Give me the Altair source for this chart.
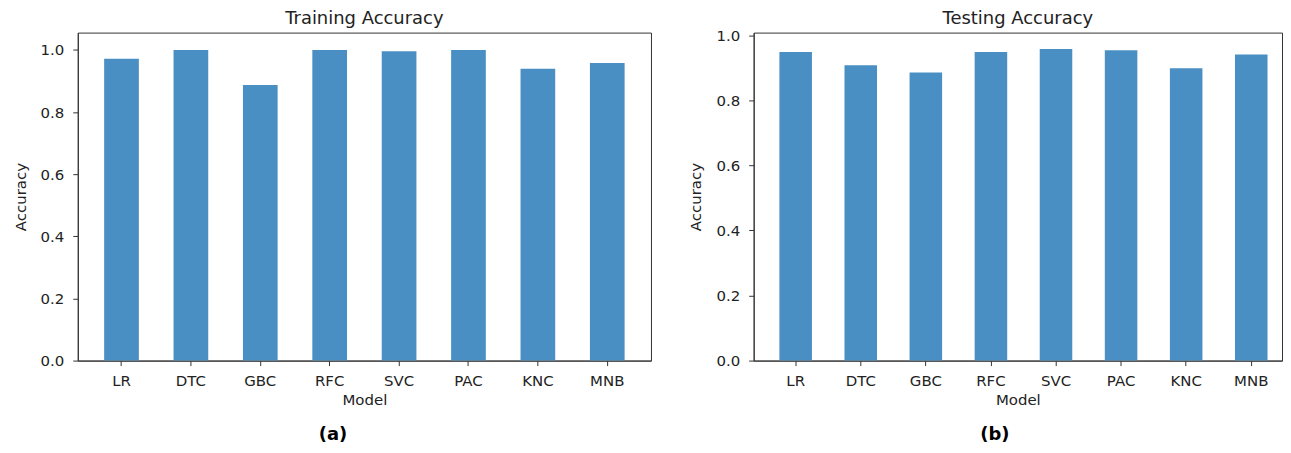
import altair as alt
import pandas as pd

models = ["LR", "DTC", "GBC", "RFC", "SVC", "PAC", "KNC", "MNB"]
train_acc = [0.972, 1.0, 0.887, 1.0, 0.996, 1.0, 0.940, 0.958]
test_acc = [0.949, 0.908, 0.886, 0.949, 0.958, 0.954, 0.899, 0.941]
panel_titles = ["Training Accuracy", "Testing Accuracy"]
panel_tags = ["(a)", "(b)"]
y_ticks = [0.0, 0.2, 0.4, 0.6, 0.8, 1.0]

BAR = "#4a8fc3"
INK = "#333333"
TXT = "#222222"
FONT = "DejaVu Sans"


def panel(values, title, tag, width, ymax, pad_outer, align, tag_x):
    df = pd.DataFrame({"Model": models, "Accuracy": values})
    bars = alt.Chart(df).mark_bar(color=BAR).encode(
        x=alt.X(
            "Model:N",
            sort=None,
            scale=alt.Scale(paddingInner=0.5, paddingOuter=pad_outer, align=align),
            axis=alt.Axis(labelAngle=0, title="Model"),
        ),
        y=alt.Y(
            "Accuracy:Q",
            scale=alt.Scale(domain=[0, ymax], nice=False, zero=True),
            axis=alt.Axis(values=y_ticks, format=".1f", title="Accuracy"),
        ),
    )
    text_df = pd.DataFrame({"tag": [tag], "title": [title]})
    label = alt.Chart(text_df).mark_text(
        fontWeight="bold", fontSize=18, baseline="middle", align="center",
        color="#000000", font=FONT,
    ).encode(x=alt.value(tag_x), y=alt.value(404), text="tag:N")
    head = alt.Chart(text_df).mark_text(
        fontSize=18, baseline="middle", align="center", color=TXT, font=FONT,
    ).encode(x=alt.value(width / 2), y=alt.value(-14), text="title:N")
    return alt.layer(bars, label, head).properties(width=width, height=329)


left = panel(train_acc, panel_titles[0], panel_tags[0], 575, 1.056, 0.38, 0.5, 256)
right = panel(test_acc, panel_titles[1], panel_tags[1], 530, 1.0084, 0.309, 0.64, 242)

chart = (
    alt.hconcat(left, right, spacing=36)
    .properties(padding={"left": 4, "top": 0, "right": 0, "bottom": 0})
    .configure_view(stroke=INK, strokeWidth=1)
    .configure_axis(
        domainColor=INK, tickColor=INK, labelColor=TXT, titleColor=TXT,
        labelFont=FONT, titleFont=FONT, labelFontSize=15, titleFontSize=15,
        titleFontWeight="normal", grid=False, tickSize=5,
    )
    .configure_axisX(labelPadding=8, titlePadding=4)
    .configure_axisY(labelPadding=9, titlePadding=12)
)

chart.save("out.html", embed_options={"renderer": "svg", "actions": False})
